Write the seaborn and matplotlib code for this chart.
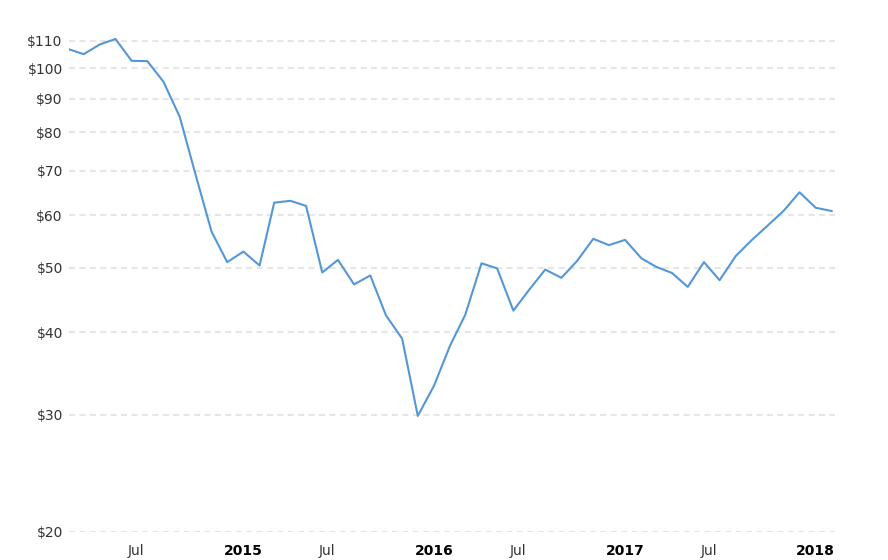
import pandas as pd
import matplotlib
matplotlib.use("Agg")
import matplotlib.pyplot as plt
import matplotlib.ticker as mticker
import seaborn as sns

# ── Config ────────────────────────────────────────────────────────
sns.set_style("white")
plt.rcParams["font.family"] = ["DejaVu Sans"]

LINE_COLOR = "#5597d6"
GRID_COLOR = "#e6e6e6"

# ── Dados (preço mensal, fev/2014 – fev/2018) ─────────────────────
START_MONTH = "2014-02-01"
PRICES = [
    106.8, 105.0, 108.6, 110.7, 102.6, 102.5, 95.4, 84.5, 69.3, 56.7, 51.0,
    52.9, 50.4, 62.7, 63.1, 62.0, 49.2, 51.4, 47.2, 48.7, 42.4, 39.1, 29.9,
    33.2, 38.2, 42.5, 50.8, 49.9, 43.1, 46.3, 49.7, 48.3, 51.2, 55.3, 54.1,
    55.1, 51.7, 50.2, 49.1, 46.8, 51.0, 47.9, 52.1, 55.1, 57.9, 61.0, 65.0,
    61.6, 60.9,
]
Y_TICKS = [20, 30, 40, 50, 60, 70, 80, 90, 100, 110]
YEAR_LABELS = ["2015", "2016", "2017", "2018"]
MID_LABEL = "Jul"

dates = pd.date_range(START_MONTH, periods=len(PRICES), freq="MS")
df = pd.DataFrame({"date": dates, "price": PRICES})

# ── Figura ────────────────────────────────────────────────────────
fig = plt.figure(figsize=(8.88, 5.6), dpi=100)
ax = fig.add_axes([69 / 888, 1 - 531.7 / 560, (835 - 69) / 888, (531.7 - 30) / 560])

sns.lineplot(data=df, x="date", y="price", ax=ax, color=LINE_COLOR, linewidth=1.5)

ax.set_yscale("log")
ax.set_ylim(20, 114.2)
ax.set_xlim(dates[0], dates[-1] + pd.Timedelta(days=6))

ax.yaxis.set_major_locator(mticker.FixedLocator(Y_TICKS))
ax.yaxis.set_minor_locator(mticker.NullLocator())
ax.set_yticklabels([f"${v}" for v in Y_TICKS])
ax.yaxis.grid(True, color=GRID_COLOR, linewidth=1.5, linestyle=(0, (2.9, 2.1)))
ax.xaxis.grid(False)

# ticks do eixo x: "Jul" e anos
jul_pos = [pd.Timestamp(f"{int(y) - 1}-06-10") for y in YEAR_LABELS]
year_pos = [pd.Timestamp(f"{y}-01-01") for y in YEAR_LABELS]
xt = sorted(jul_pos + year_pos)
ax.set_xticks(xt)
labels = []
for t in xt:
    labels.append(str(t.year) if t.month == 1 else MID_LABEL)
ax.set_xticklabels(labels)
for lbl in ax.get_xticklabels():
    if lbl.get_text() == MID_LABEL:
        lbl.set_color("#333333")
    else:
        lbl.set_fontweight("bold")
        lbl.set_color("black")

ax.tick_params(axis="both", length=0, labelsize=10)
ax.tick_params(axis="y", pad=4.5, labelcolor="#333333")
ax.tick_params(axis="x", pad=9)
ax.set_xlabel("")
ax.set_ylabel("")
sns.despine(ax=ax, left=True, bottom=True)

fig.savefig("out.png", dpi=100)
plt.close()
